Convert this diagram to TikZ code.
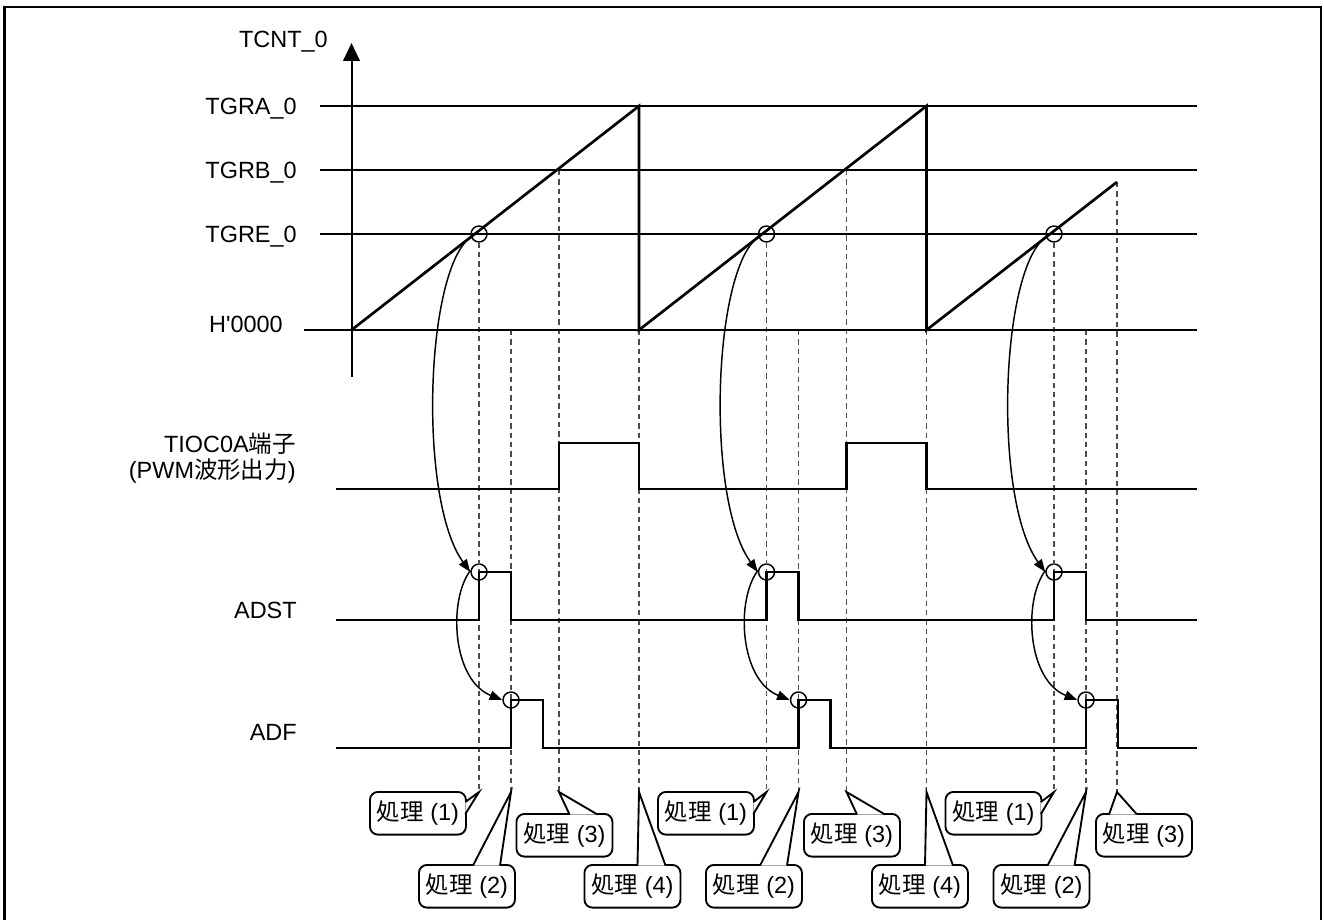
\documentclass[tikz,border=0pt]{standalone}
\usepackage{fontspec}
\setmainfont{Liberation Sans}
\newfontfamily\cjk{Noto Sans CJK JP}
\usetikzlibrary{arrows.meta, calc}

\begin{document}
\begin{tikzpicture}[x=0.75pt, y=-0.75pt,
  every node/.style={font=\fontsize{17.6pt}{21pt}\selectfont, inner sep=0pt},
  level/.style={line width=1.5pt},
  wave/.style={line width=2pt},
  guide/.style={line width=0.9pt, black!70, dash pattern=on 4pt off 3pt},
  ring/.style={draw, circle, minimum size=12pt, line width=1.1pt},
  flow/.style={line width=1.1pt, -{Triangle[length=9.5pt, width=7pt]}},
  callbox/.style={draw, fill=white, rounded corners=6pt, line width=1.4pt,
    minimum width=72pt, minimum height=32pt, anchor=north west},
  tail/.style={line width=1.4pt}]

\useasboundingbox (0,0) rectangle (1324,920);
\draw[line width=2pt] (4.7,7) rectangle (1321,930);

% signal names
\node[anchor=base east] (tcnt) at (328,48) {TCNT\_0};
\node[anchor=base east] (tgra) at (297,115) {TGRA\_0};
\node[anchor=base east] (tgrb) at (297,179) {TGRB\_0};
\node[anchor=base east] (tgre) at (297,243) {TGRE\_0};
\node[anchor=base east] (zero) at (283,332) {H\textquotesingle 0000};
\node[anchor=base east] (tioc) at (296,452) {TIOC0A{\cjk 端子}};
\node[anchor=base east] (pwm) at (296,478) {(PWM{\cjk 波形出力})};
\node[anchor=base east] (adst) at (297,618) {ADST};
\node[anchor=base east] (adf) at (297,740) {ADF};

% rings and lower ends of the guides
\foreach \s/\n in {0/a, 287.5/b, 575/c} {
  \node[ring] (re\n) at ({479+\s},234) {};
  \node[ring] (rs\n) at ({479+\s},572) {};
  \node[ring] (rf\n) at ({511+\s},700) {};
  \coordinate (q1\n) at ({479+\s},792);
  \coordinate (q2\n) at ({511+\s},792);
}
\coordinate (q3a) at (559,792);
\coordinate (q4a) at (639,792);
\coordinate (q3b) at (846.5,792);
\coordinate (q4b) at (926.5,792);
\coordinate (q3c) at (1117,792);

% guides
\draw[guide] (rea.south) -- (q1a);
\draw[guide] (511,330) -- (q2a);
\draw[guide] (559,170) -- (q3a);
\draw[guide] (639,330) -- (q4a);
\draw[guide] (reb.south) -- (q1b);
\draw[guide] (798.5,330) -- (q2b);
\draw[guide] (846.5,170) -- (q3b);
\draw[guide] (926.5,330) -- (q4b);
\draw[guide] (rec.south) -- (q1c);
\draw[guide] (1086,330) -- (q2c);
\draw[guide] (1117,182) -- (q3c);

% counter
\draw[level] (320,106) -- (1197,106);
\draw[level] (320,170) -- (1197,170);
\draw[level] (320,234) -- (1197,234);
\draw[level] (304,330) -- (1197,330);
\draw[level, -{Triangle[length=13.5pt, width=12.5pt]}] (351.5,377) -- (351.5,43);
\draw[wave] (351.5,330) -- (639,106) -- (639,330) -- (926.5,106) -- (926.5,330) -- (1117,182);

% outputs
\draw[wave] (336,489) -| (559,443) -| (639,489) -| (846.5,443) -| (926.5,489) -- (1197,489);
\draw[wave] (336,620) -| (479,572) -| (511,620) -| (766.5,572) -| (798.5,620)
  -| (1054,572) -| (1086,620) -- (1197,620);
\draw[wave] (336,748) -| (511,700) -| (543,748) -| (798.5,700) -| (830.5,748)
  -| (1086,700) -| (1118,748) -- (1197,748);

% triggers
\foreach \s/\n in {0/a, 287.5/b, 575/c} {
  \draw[flow] (re\n.200) .. controls ({425+\s},270) and ({418+\s},500) .. (rs\n.180);
  \draw[flow] (rs\n.170) .. controls ({448+\s},600) and ({452+\s},680) .. (rf\n.180);
}

% callouts
\node[callbox] (k1a) at (369,791) {{\cjk 処理} (1)};
\node[callbox] (k2a) at (418,864) {{\cjk 処理} (2)};
\node[callbox] (k3a) at (515.5,813) {{\cjk 処理} (3)};
\node[callbox] (k4a) at (583.5,864) {{\cjk 処理} (4)};
\node[callbox] (k1b) at (657,791) {{\cjk 処理} (1)};
\node[callbox] (k2b) at (705,864) {{\cjk 処理} (2)};
\node[callbox] (k3b) at (803,813) {{\cjk 処理} (3)};
\node[callbox] (k4b) at (871,864) {{\cjk 処理} (4)};
\node[callbox] (k1c) at (944.5,791) {{\cjk 処理} (1)};
\node[callbox] (k2c) at (992.5,864) {{\cjk 処理} (2)};
\node[callbox] (k3c) at (1095,813) {{\cjk 処理} (3)};

\foreach \kb/\xa/\ya/\xb/\yb/\tp in {
  k1a.north east/-1.5/11/-1.5/23/q1a,
  k2a.north west/55/1.5/82/1.5/q2a,
  k3a.north west/54/1.5/82/1.5/q3a,
  k4a.north west/54/1.5/82/1.5/q4a,
  k1b.north east/-1.5/11/-1.5/23/q1b,
  k2b.north west/55/1.5/82/1.5/q2b,
  k3b.north west/54/1.5/82/1.5/q3b,
  k4b.north west/54/1.5/82/1.5/q4b,
  k1c.north east/-1.5/11/-1.5/23/q1c,
  k2c.north west/55/1.5/82/1.5/q2c,
  k3c.north west/14/1.5/42/1.5/q3c} {
  \coordinate (ba) at ($(\kb)+(\xa,\ya)$);
  \coordinate (bb) at ($(\kb)+(\xb,\yb)$);
  \fill[white] (ba) -- (\tp) -- (bb) -- cycle;
  \draw[tail] (ba) -- (\tp) -- (bb);
}
\end{tikzpicture}
\end{document}
